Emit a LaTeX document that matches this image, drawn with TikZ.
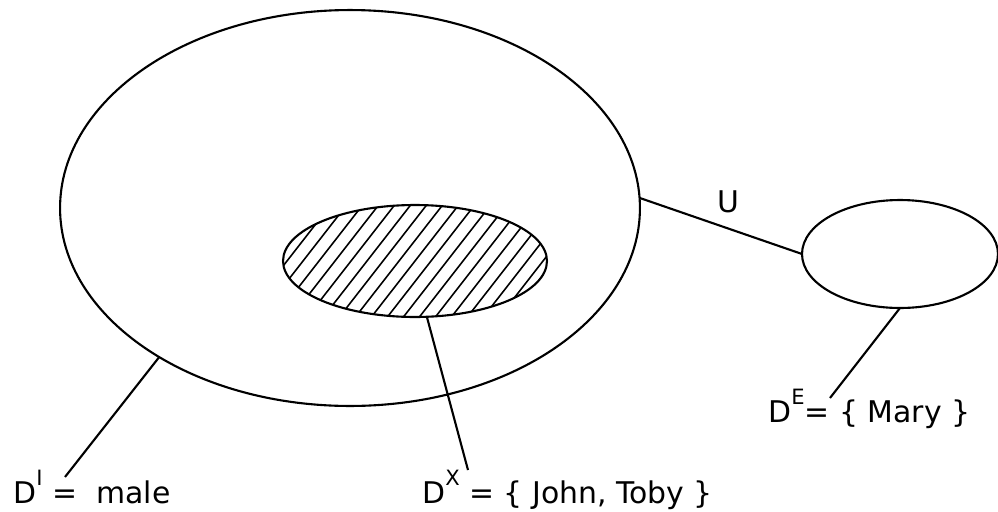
\documentclass[tikz,border=0pt]{standalone}
\usepackage{fontspec}
\setmainfont{DejaVu Sans}
\usetikzlibrary{shapes.geometric}
\tikzset{
    region/.style={
        draw,
        ellipse,
        line width=1.2pt,
        inner sep=0pt,
        outer sep=0pt
    },
    line/.style={line width=1.2pt},
    hatchline/.style={line width=0.9pt},
    note/.style={anchor=base west, inner sep=0pt, font=\fontsize{17}{20}\selectfont},
    tag/.style={inner sep=0pt, font=\fontsize{17}{20}\selectfont}
}
\newcommand{\hiup}[1]{\raisebox{10pt}{\fontsize{12}{12}\selectfont #1}}

\begin{document}
\begin{tikzpicture}[x=0.02cm, y=-0.02cm]
\useasboundingbox (0,0) rectangle (998,511);

\node[region, minimum width=11.6cm, minimum height=7.92cm] (domI) at (350,208) {};
\node[region, minimum width=5.28cm, minimum height=2.24cm] (domX) at (415,261) {};
\node[region, minimum width=3.92cm, minimum height=2.16cm] (domE) at (900,254) {};

% hatching of the inner region
\begin{scope}
\clip (415,261) ellipse [x radius=132, y radius=56];
\foreach \k in {-16,...,16}
    \draw[hatchline] (415+\k*16-74,261+95) -- ++(148,-190);
\end{scope}

\node[tag] (u) at (728,202) {U};
\draw[line] (domI.2) -- (domE.west);

\node[note] (labI) at (13,503) {D\hiup{I} = \,\,male};
\node[note] (labX) at (422,503) {D\hiup{X} = \{ John, Toby \}};
\node[note] (labE) at (768,422) {D\hiup{E}= \{ Mary \}};

\coordinate (tipI) at (65,477);
\coordinate (tipX) at (468,470);
\coordinate (tipE) at (830,398);

\draw[line] (domI.218) -- (tipI);
\draw[line] (domX.282) -- (tipX);
\draw[line] (domE.south) -- (tipE);
\end{tikzpicture}
\end{document}
